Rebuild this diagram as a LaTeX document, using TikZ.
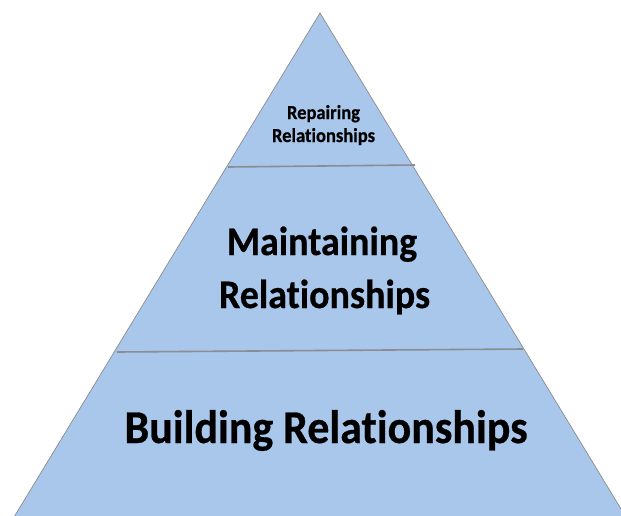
\documentclass[tikz,border=0pt]{standalone}
\usepackage{fontspec}
\setmainfont{Carlito}[Ligatures=NoCommon, BoldFeatures={FakeBold=0.6}]
\definecolor{pyrfill}{HTML}{A9C6EB}
\definecolor{edgegray}{HTML}{8C8C8C}
\definecolor{divgray}{HTML}{8A8D92}
\tikzset{
  tier/.style={fill=pyrfill, draw=edgegray, line width=0.7pt, line join=miter},
  divider/.style={draw=divgray, line width=1.6pt},
  lbl/.style={anchor=base, inner sep=0pt, text=black, font=\bfseries, xscale=0.935},
}
\begin{document}
\begin{tikzpicture}[x=1pt,y=-1pt]
\useasboundingbox (0,0) rectangle (621,515);
\clip (0,0) rectangle (621,515);
\coordinate (apex) at (320,13);
\coordinate (bl) at (12.2,520);
\coordinate (br) at (627.7,520);
\path[tier] (apex) -- (bl) -- (br) -- cycle;
\coordinate (d1l) at (228,167);
\coordinate (d1r) at (415,165);
\coordinate (d2l) at (117,352);
\coordinate (d2r) at (523,349);
\draw[divider] (d1l) -- (d1r);
\draw[divider] (d2l) -- (d2r);
\node[lbl, font=\fontsize{19.8}{19.8}\selectfont\bfseries] (rep1) at (323.5,119) {Repairing};
\node[lbl, font=\fontsize{19.8}{19.8}\selectfont\bfseries] (rep2) at (323.5,142) {Relationships};
\node[lbl, font=\fontsize{40.6}{40.6}\selectfont\bfseries] (main1) at (322,255) {Maintaining};
\node[lbl, font=\fontsize{40.6}{40.6}\selectfont\bfseries] (main2) at (324.5,308) {Relationships};
\node[lbl, font=\fontsize{47}{47}\selectfont\bfseries] (build) at (326,443) {Building Relationships};
\end{tikzpicture}
\end{document}
